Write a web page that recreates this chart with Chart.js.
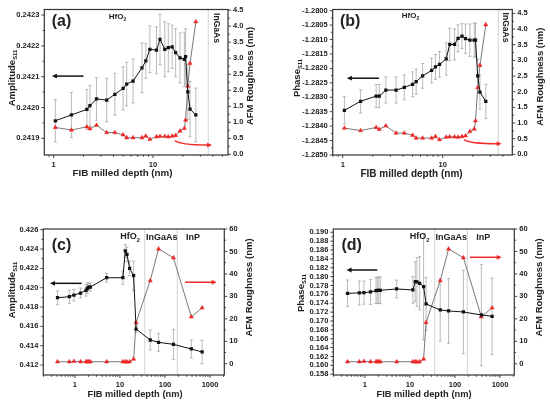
<!DOCTYPE html>
<html>
<head>
<meta charset="utf-8">
<script src="https://cdn.jsdelivr.net/npm/chart.js@4.4.1/dist/chart.umd.min.js"></script>
<style>
  html, body { margin: 0; padding: 0; background: #fff; }
  #wrap { position: relative; width: 550px; height: 405px; }
  canvas { position: absolute; }
</style>
</head>
<body>
<div id="wrap">
  <canvas id="chartA" width="275" height="200" style="left:0;top:0"></canvas>
  <canvas id="chartB" width="275" height="200" style="left:275px;top:0"></canvas>
  <canvas id="chartC" width="275" height="205" style="left:0;top:200px"></canvas>
  <canvas id="chartD" width="275" height="205" style="left:275px;top:200px"></canvas>
</div>
<script>
// FIB milled depth (nm), HfO2-only scan (panels a, b)
const depthAB = [1.04, 1.51, 2.16, 2.32, 2.70, 3.42, 4.13, 5.0, 5.43, 6.3, 7.75, 8.47, 9.3,
  10.85, 11.76, 13.15, 14.25, 15.6, 16.9, 18.7, 20.7, 21.3, 22.4, 23.6, 27.0];
const amplitudeA = [0.241957, 0.241976, 0.241994, 0.242006, 0.242028, 0.242024, 0.242043,
  0.242062, 0.242076, 0.242086, 0.242129, 0.242151, 0.242189, 0.242186, 0.242221, 0.242189,
  0.242194, 0.242197, 0.242178, 0.242161, 0.242156, 0.242165, 0.242051, 0.241995, 0.241976];
const amplitudeErrA = [0.000069, 0.000073, 0.000065, 0.000066, 0.000069, 0.000071, 0.000068,
  0.00007, 0.000071, 0.000071, 0.000081, 0.000056, 0.000076, 0.000076, 0.000082, 0.000089,
  0.000078, 0.00007, 0.000078, 0.000081, 0.000088, 0.00009, 0.00009, 0.00009, 0.000087];
const phaseB = [-1.28345, -1.28314, -1.28296, -1.28296, -1.28275, -1.28275, -1.28266, -1.28255,
  -1.28246, -1.28226, -1.28207, -1.28195, -1.28186, -1.28167, -1.28117, -1.28117, -1.28096,
  -1.28088, -1.28097, -1.28102, -1.28102, -1.28102, -1.28226, -1.28282, -1.28314];
const phaseErrB = [0.00047, 0.0004, 0.0004, 0.0004, 0.00045, 0.00045, 0.00043, 0.00043, 0.00043,
  0.00043, 0.00043, 0.00043, 0.00045, 0.00056, 0.00056, 0.00054, 0.00047, 0.00043, 0.00051,
  0.00056, 0.00059, 0.00059, 0.00059, 0.00059, 0.00059];
// AFM roughness (nm), same for a and b
const roughnessAB = [0.84, 0.76, 0.86, 0.80, 0.91, 0.68, 0.68, 0.61, 0.52, 0.52, 0.52, 0.57, 0.47,
  0.55, 0.56, 0.56, 0.55, 0.57, 0.59, 0.73, 0.81, 1.07, 2.13, 2.84, 4.14];

// FIB milled depth (nm), full stack scan (panels c, d)
const depthCD = [0.41, 0.75, 0.95, 1.33, 1.76, 1.88, 2.03, 2.19, 5.06, 11.6, 13.1, 14.3, 16.4,
  20.1, 22.8, 47, 72, 154, 385, 668];
const amplitudeC = [0.41896, 0.41907, 0.41924, 0.41945, 0.41973, 0.41994, 0.42007, 0.42007,
  0.42103, 0.42103, 0.42380, 0.42345, 0.42200, 0.42124, 0.41572, 0.41459, 0.41435, 0.41414,
  0.41366, 0.41335];
const amplitudeErrC = [0.00072, 0.00069, 0.00059, 0.00052, 0.00059, 0.00055, 0.00041, 0.00041,
  0.00045, 0.00069, 0.00066, 0.00076, 0.00076, 0.0015, 0.00035, 0.00104, 0.00093, 0.00155,
  0.00093, 0.00121];
const phaseD = [0.17624, 0.17632, 0.17639, 0.17654, 0.17684, 0.17692, 0.17692, 0.17692, 0.17722,
  0.17700, 0.17886, 0.17879, 0.17850, 0.17773, 0.17383, 0.17249, 0.17226, 0.17203, 0.17135,
  0.17106];
const phaseErrD = [0.0030, 0.0027, 0.0026, 0.0028, 0.0029, 0.0030, 0.0030, 0.0030, 0.0020, 0.0030,
  0.0045, 0.0055, 0.0060, 0.0120, 0.0060, 0.0070, 0.0073, 0.0094, 0.0114, 0.0086];
const roughnessCD = [0.9, 0.9, 1.1, 0.9, 0.9, 0.9, 0.9, 0.9, 0.9, 0.9, 0.9, 0.8, 0.9, 2.1, 18.4,
  37.0, 51.1, 47.2, 20.9, 24.9];

// tick labels
const ticksDepthAB = [1, 10];
const ticksDepthCD = [1, 10, 100, 1000];
const ticksAmpA = [0.2419, 0.2420, 0.2421, 0.2422, 0.2423];
const ticksPhaseB = [-1.2850, -1.2845, -1.2840, -1.2835, -1.2830, -1.2825, -1.2820, -1.2815,
  -1.2810, -1.2805, -1.2800];
const ticksRoughAB = [0, 0.5, 1.0, 1.5, 2.0, 2.5, 3.0, 3.5, 4.0, 4.5];
const ticksAmpC = [0.412, 0.414, 0.416, 0.418, 0.420, 0.422, 0.424, 0.426];
const ticksPhaseD = [0.158, 0.160, 0.162, 0.164, 0.166, 0.168, 0.170, 0.172, 0.174, 0.176,
  0.178, 0.180, 0.182, 0.184, 0.186, 0.188, 0.190];
const ticksRoughCD = [0, 10, 20, 30, 40, 50, 60];

// layer boundaries (nm)
const boundariesAB = [36];
const boundariesCD = [35.5, 188];

const FONT = '"Liberation Sans", Arial, Helvetica, sans-serif';
const INK = '#222';

function line(ctx, x1, y1, x2, y2) {
  ctx.beginPath(); ctx.moveTo(x1, y1); ctx.lineTo(x2, y2); ctx.stroke();
}

function head(ctx, x, y, ang, len, half) {
  ctx.beginPath();
  ctx.moveTo(x, y);
  ctx.lineTo(x - len * Math.cos(ang) + half * Math.sin(ang), y - len * Math.sin(ang) - half * Math.cos(ang));
  ctx.lineTo(x - len * Math.cos(ang) - half * Math.sin(ang), y - len * Math.sin(ang) + half * Math.cos(ang));
  ctx.closePath(); ctx.fill();
}

// text with optional subscript, centred on (x, y)
function label(ctx, t) {
  ctx.save();
  ctx.translate(t.x, t.y);
  if (t.rot) ctx.rotate(t.rot);
  const main = `bold ${t.size}px ${FONT}`, small = `bold ${t.size * 0.62}px ${FONT}`;
  ctx.font = main;
  const w1 = ctx.measureText(t.text).width;
  ctx.font = small;
  const w2 = t.sub ? ctx.measureText(t.sub).width : 0;
  let x0 = t.left ? 0 : -(w1 + w2) / 2;
  ctx.fillStyle = INK;
  ctx.textBaseline = 'middle';
  ctx.textAlign = 'left';
  ctx.font = main;
  ctx.fillText(t.text, x0, 0);
  if (t.sub) { ctx.font = small; ctx.fillText(t.sub, x0 + w1, t.size * 0.35); }
  ctx.restore();
}

const decor = {
  id: 'decor',
  beforeDatasetsDraw(chart, args, o) {
    const { ctx, chartArea: a, scales } = chart;
    ctx.save();
    ctx.beginPath(); ctx.rect(a.left, a.top, a.right - a.left, a.bottom - a.top); ctx.clip();
    ctx.strokeStyle = '#cfcfcf'; ctx.lineWidth = 0.9;
    o.bounds.forEach(v => {
      const px = scales.x.getPixelForValue(v);
      line(ctx, px, a.top, px, a.bottom);
    });
    ctx.strokeStyle = '#a8a8a8'; ctx.lineWidth = 0.8;
    o.xs.forEach((xv, i) => {
      const px = scales.x.getPixelForValue(xv);
      const y1 = scales.yL.getPixelForValue(o.ys[i] - o.err[i]);
      const y2 = scales.yL.getPixelForValue(o.ys[i] + o.err[i]);
      line(ctx, px, y1, px, y2);
      line(ctx, px - 1.6, y1, px + 1.6, y1);
      line(ctx, px - 1.6, y2, px + 1.6, y2);
    });
    ctx.restore();
  },
  afterDraw(chart, args, o) {
    const { ctx, chartArea: a, scales } = chart;
    const sx = scales.x, yl = scales.yL, yr = scales.yR;
    ctx.save();
    ctx.strokeStyle = '#333'; ctx.lineWidth = 1.2;
    ctx.strokeRect(a.left, a.top, a.right - a.left, a.bottom - a.top);
    ctx.lineWidth = 0.9;
    // x ticks, major + minor decades
    const d0 = Math.floor(Math.log10(sx.min)), d1 = Math.ceil(Math.log10(sx.max));
    for (let d = d0; d <= d1; d++) {
      for (let m = 1; m <= 9; m++) {
        const v = m * Math.pow(10, d);
        if (v < sx.min || v > sx.max) continue;
        const px = sx.getPixelForValue(v);
        line(ctx, px, a.bottom, px, a.bottom + (m === 1 ? 3 : 1.8));
      }
    }
    [[yl, o.lTicks, -1, a.left], [yr, o.rTicks, 1, a.right]].forEach(([s, tk, dir, x0]) => {
      tk.forEach((v, i) => {
        const py = s.getPixelForValue(v);
        line(ctx, x0, py, x0 + dir * 3, py);
        if (i < tk.length - 1) {
          const pm = s.getPixelForValue((v + tk[i + 1]) / 2);
          line(ctx, x0, pm, x0 + dir * 1.8, pm);
        }
      });
    });
    // arrows
    const bk = o.arrowL;
    ctx.strokeStyle = '#111'; ctx.fillStyle = '#111'; ctx.lineWidth = 1.5;
    const bx1 = sx.getPixelForValue(bk.from), bx2 = sx.getPixelForValue(bk.to), by = yl.getPixelForValue(bk.y);
    line(ctx, bx1, by, bx2 + 4, by);
    head(ctx, bx2, by, Math.PI, 5, 2.4);
    const rd = o.arrowR;
    ctx.strokeStyle = '#f02a2a'; ctx.fillStyle = '#f02a2a';
    const rx1 = sx.getPixelForValue(rd.from), rx2 = sx.getPixelForValue(rd.to);
    const ry1 = yr.getPixelForValue(rd.y1), ry2 = yr.getPixelForValue(rd.y2);
    if (rd.bend) {
      const cx = sx.getPixelForValue(rd.bend);
      ctx.beginPath(); ctx.moveTo(rx1, ry1); ctx.quadraticCurveTo(cx, ry2, rx2 - 4, ry2); ctx.stroke();
    } else {
      line(ctx, rx1, ry1, rx2 - 4, ry2);
    }
    head(ctx, rx2, ry2, 0, 5, 2.4);
    ctx.restore();
    o.texts.forEach(t => label(ctx, t));
  }
};

function makePanel(id, p) {
  const el = document.getElementById(id);
  const W = el.width, H = el.height;
  const tickFont = { family: FONT, size: 7.5, weight: 'bold' };
  const fixTicks = list => s => { s.ticks = list.map(v => ({ value: v })); };
  new Chart(el, {
    type: 'line',
    data: {
      datasets: [
        {
          data: p.xs.map((x, i) => ({ x, y: p.ys[i] })),
          yAxisID: 'yL',
          borderColor: '#111', borderWidth: 1,
          pointStyle: 'rect', pointRadius: 2.3,
          pointBackgroundColor: '#111', pointBorderWidth: 0
        },
        {
          data: p.xs.map((x, i) => ({ x, y: p.rough[i] })),
          yAxisID: 'yR',
          borderColor: '#6a6a6a', borderWidth: 0.9,
          pointStyle: 'triangle', pointRadius: 2.4,
          pointBackgroundColor: '#ee2424', pointBorderColor: '#ee2424', pointBorderWidth: 0.5
        }
      ]
    },
    options: {
      responsive: false,
      animation: false,
      devicePixelRatio: 1,
      layout: { padding: { top: p.area.top, left: 0, right: 0, bottom: 0 } },
      plugins: {
        legend: { display: false },
        tooltip: { enabled: false },
        decor: p
      },
      scales: {
        x: {
          type: 'logarithmic', min: p.xMin, max: p.xMax,
          afterFit: s => { s.height = H - p.area.bottom; },
          afterBuildTicks: fixTicks(p.xTicks),
          ticks: { callback: v => String(v), font: tickFont, color: INK, padding: 5, autoSkip: false, maxRotation: 0 },
          grid: { display: false, drawTicks: false },
          border: { display: false }
        },
        yL: {
          type: 'linear', position: 'left', min: p.lMin, max: p.lMax,
          afterFit: s => { s.width = p.area.left; },
          afterBuildTicks: fixTicks(p.lTicks),
          ticks: { callback: v => v.toFixed(p.lDec), font: tickFont, color: INK, padding: 5, autoSkip: false },
          grid: { display: false, drawTicks: false },
          border: { display: false }
        },
        yR: {
          type: 'linear', position: 'right', min: p.rMin, max: p.rMax,
          afterFit: s => { s.width = W - p.area.right; },
          afterBuildTicks: fixTicks(p.rTicks),
          ticks: { callback: v => v.toFixed(p.rDec), font: tickFont, color: INK, padding: 5, autoSkip: false },
          grid: { display: false, drawTicks: false },
          border: { display: false }
        }
      }
    },
    plugins: [decor]
  });
}

const UP = -Math.PI / 2, DOWN = Math.PI / 2;
const roughTitle = 'AFM Roughness (nm)', depthTitle = 'FIB milled depth (nm)';

makePanel('chartA', {
  area: { left: 44.3, right: 228, top: 9.3, bottom: 155 },
  xs: depthAB, ys: amplitudeA, err: amplitudeErrA, rough: roughnessAB,
  xMin: 0.805, xMax: 56.9, xTicks: ticksDepthAB,
  lMin: 0.241846, lMax: 0.242318, lTicks: ticksAmpA, lDec: 4,
  rMin: -0.02, rMax: 4.52, rTicks: ticksRoughAB, rDec: 1,
  bounds: boundariesAB,
  arrowL: { from: 2.0, to: 0.96, y: 0.242102 },
  arrowR: { from: 16.6, to: 39.3, y1: 0.43, y2: 0.29, bend: 18.5 },
  texts: [
    { text: '(a)', x: 51.7, y: 22, size: 16, left: true },
    { text: 'HfO', sub: '2', x: 117.5, y: 17, size: 8 },
    { text: 'InGaAs', x: 216.5, y: 28, size: 8.5, rot: DOWN },
    { text: 'Amplitude', sub: 'S11', x: 12, y: 78, size: 9.5, rot: UP },
    { text: roughTitle, x: 250.7, y: 76, size: 9.5, rot: UP },
    { text: depthTitle, x: 122.5, y: 173, size: 9.8 }
  ]
});

makePanel('chartB', {
  area: { left: 57.7, right: 237.3, top: 6, bottom: 155 },
  xs: depthAB, ys: phaseB, err: phaseErrB, rough: roughnessAB,
  xMin: 0.794, xMax: 49.7, xTicks: ticksDepthAB,
  lMin: -1.2850, lMax: -1.27996, lTicks: ticksPhaseB, lDec: 4,
  rMin: -0.02, rMax: 4.625, rTicks: ticksRoughAB, rDec: 1,
  bounds: boundariesAB,
  arrowL: { from: 2.31, to: 1.1, y: -1.28234 },
  arrowR: { from: 16.4, to: 38.9, y1: 0.47, y2: 0.34, bend: 18.5 },
  texts: [
    { text: '(b)', x: 65, y: 22, size: 16, left: true },
    { text: 'HfO', sub: '2', x: 135.5, y: 16, size: 8 },
    { text: 'InGaAs', x: 230, y: 27.5, size: 8.5, rot: DOWN },
    { text: 'Phase', sub: 'S11', x: 22.5, y: 78, size: 9.5, rot: UP },
    { text: roughTitle, x: 265.5, y: 76.7, size: 9.5, rot: UP },
    { text: depthTitle, x: 136.5, y: 174, size: 10 }
  ]
});

makePanel('chartC', {
  area: { left: 43.3, right: 224.3, top: 29, bottom: 175 },
  xs: depthCD, ys: amplitudeC, err: amplitudeErrC, rough: roughnessCD,
  xMin: 0.198, xMax: 2078, xTicks: ticksDepthCD,
  lMin: 0.41097, lMax: 0.42607, lTicks: ticksAmpC, lDec: 3,
  rMin: -5, rMax: 60, rTicks: ticksRoughCD, rDec: 0,
  bounds: boundariesCD,
  arrowL: { from: 1.41, to: 0.278, y: 0.42045 },
  arrowR: { from: 278, to: 1409, y1: 36.3, y2: 36.3 },
  texts: [
    { text: '(c)', x: 51.7, y: 46, size: 16, left: true },
    { text: 'HfO', sub: '2', x: 130, y: 37, size: 9 },
    { text: 'InGaAs', x: 161.7, y: 37.5, size: 9 },
    { text: 'InP', x: 193, y: 37.5, size: 9 },
    { text: 'Amplitude', sub: 'S11', x: 12.5, y: 90, size: 9.5, rot: UP },
    { text: roughTitle, x: 249, y: 87.5, size: 9.5, rot: UP },
    { text: depthTitle, x: 135, y: 194, size: 9.3 }
  ]
});

makePanel('chartD', {
  area: { left: 58.3, right: 239.3, top: 29, bottom: 175 },
  xs: depthCD, ys: phaseD, err: phaseErrD, rough: roughnessCD,
  xMin: 0.198, xMax: 2078, xTicks: ticksDepthCD,
  lMin: 0.15782, lMax: 0.19074, lTicks: ticksPhaseD, lDec: 3,
  rMin: -5, rMax: 60, rTicks: ticksRoughCD, rDec: 0,
  bounds: boundariesCD,
  arrowL: { from: 1.88, to: 0.39, y: 0.1815 },
  arrowR: { from: 215, to: 1095, y1: 47.4, y2: 47.4 },
  texts: [
    { text: '(d)', x: 66.5, y: 46, size: 16, left: true },
    { text: 'HfO', sub: '2', x: 144.5, y: 37, size: 9 },
    { text: 'InGaAs', x: 176.3, y: 37.5, size: 9 },
    { text: 'InP', x: 208.3, y: 37.5, size: 9 },
    { text: 'Phase', sub: 'S11', x: 26, y: 93, size: 9.5, rot: UP },
    { text: roughTitle, x: 264, y: 87.5, size: 9.5, rot: UP },
    { text: depthTitle, x: 149, y: 194, size: 9.3 }
  ]
});
</script>
</body>
</html>
